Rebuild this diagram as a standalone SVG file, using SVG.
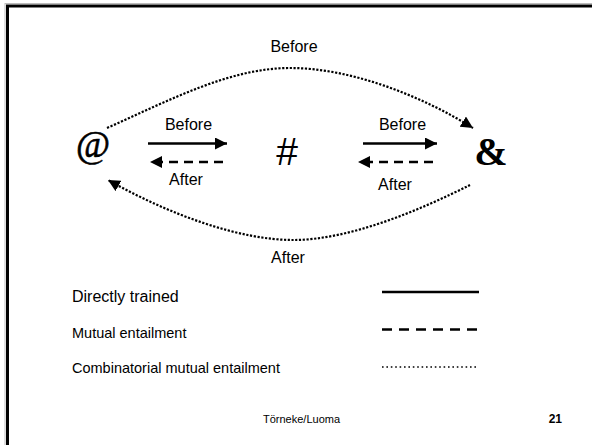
<svg xmlns="http://www.w3.org/2000/svg" width="592" height="445" viewBox="0 0 592 445">
<defs>
<style>
.lbl{font-family:"Liberation Sans",Arial,sans-serif;font-size:16px;fill:#000}
.sm{font-family:"Liberation Sans",Arial,sans-serif;font-size:14.5px;fill:#000}
.ft{font-family:"Liberation Sans",Arial,sans-serif;font-size:11px;fill:#000}
.solid{fill:none;stroke:#000;stroke-width:2.3}
.dash{fill:none;stroke:#000;stroke-width:2.3;stroke-dasharray:9 6}
.dot{fill:none;stroke:#000;stroke-width:2.2;stroke-dasharray:2.2 1.6}
</style>
<marker id="ah" markerUnits="userSpaceOnUse" markerWidth="12" markerHeight="12" refX="10" refY="5" orient="auto" viewBox="0 0 10 10">
<path d="M0,0 L10,5 L0,10 Z" fill="#000"/>
</marker>
</defs>
<rect width="592" height="445" fill="#fff"/>
<rect x="7.5" y="6" width="620" height="480" fill="none" stroke="#000" stroke-width="3"/>
<rect x="5" y="3.5" width="625" height="485" fill="none" stroke="#bbb" stroke-width="1"/>

<g id="node-at"><text x="93" y="157" text-anchor="middle" style="font-family:'Liberation Serif','Times New Roman',serif;font-size:37px;stroke:#000;stroke-width:0.6">@</text></g>
<g id="node-hash"><text x="287" y="164.5" text-anchor="middle" style="font-family:'Liberation Sans',Arial,sans-serif;font-size:39px">#</text></g>
<g id="node-amp"><text x="491" y="165" text-anchor="middle" style="font-family:'Liberation Serif','Times New Roman',serif;font-size:40px;font-weight:bold">&amp;</text></g>

<g id="connectors">
<path class="solid" d="M148,143.5 L227,143.5" marker-end="url(#ah)"/>
<path class="dash" d="M223,162 L150,162" marker-end="url(#ah)"/>
<path class="solid" d="M363,143.5 L437,143.5" marker-end="url(#ah)"/>
<path class="dash" d="M433,162 L358,162" marker-end="url(#ah)"/>
<path class="dot" d="M107,128 C170,100 230,68 290,68 C350,68 420,95 473,128" marker-end="url(#ah)"/>
<path class="dot" d="M470,185 C420,210 350,240 293,240 C240,240 170,215 108,180" marker-end="url(#ah)"/>
</g>

<g id="labels">
<text class="lbl" x="294" y="52" text-anchor="middle">Before</text>
<text class="lbl" x="188.5" y="129.5" text-anchor="middle">Before</text>
<text class="lbl" x="402.5" y="129.5" text-anchor="middle">Before</text>
<text class="lbl" x="186" y="185" text-anchor="middle">After</text>
<text class="lbl" x="395" y="190" text-anchor="middle">After</text>
<text class="lbl" x="288" y="263" text-anchor="middle">After</text>
</g>

<g id="legend">
<text class="lbl" x="72" y="302">Directly trained</text>
<text class="sm" x="72" y="338">Mutual entailment</text>
<text class="sm" x="72" y="373">Combinatorial mutual entailment</text>
<line x1="382" y1="292" x2="479" y2="292" stroke="#000" stroke-width="2.3"/>
<line x1="382" y1="329.5" x2="477" y2="329.5" stroke="#000" stroke-width="2.3" stroke-dasharray="10 7"/>
<line x1="382" y1="367" x2="478" y2="367" stroke="#000" stroke-width="1.6" stroke-dasharray="1.6 2.8"/>
</g>

<g id="footer">
<text class="ft" x="263" y="423">Törneke/Luoma</text>
<text class="ft" x="562" y="423" text-anchor="end" style="font-weight:bold;font-size:12px">21</text>
</g>
</svg>
